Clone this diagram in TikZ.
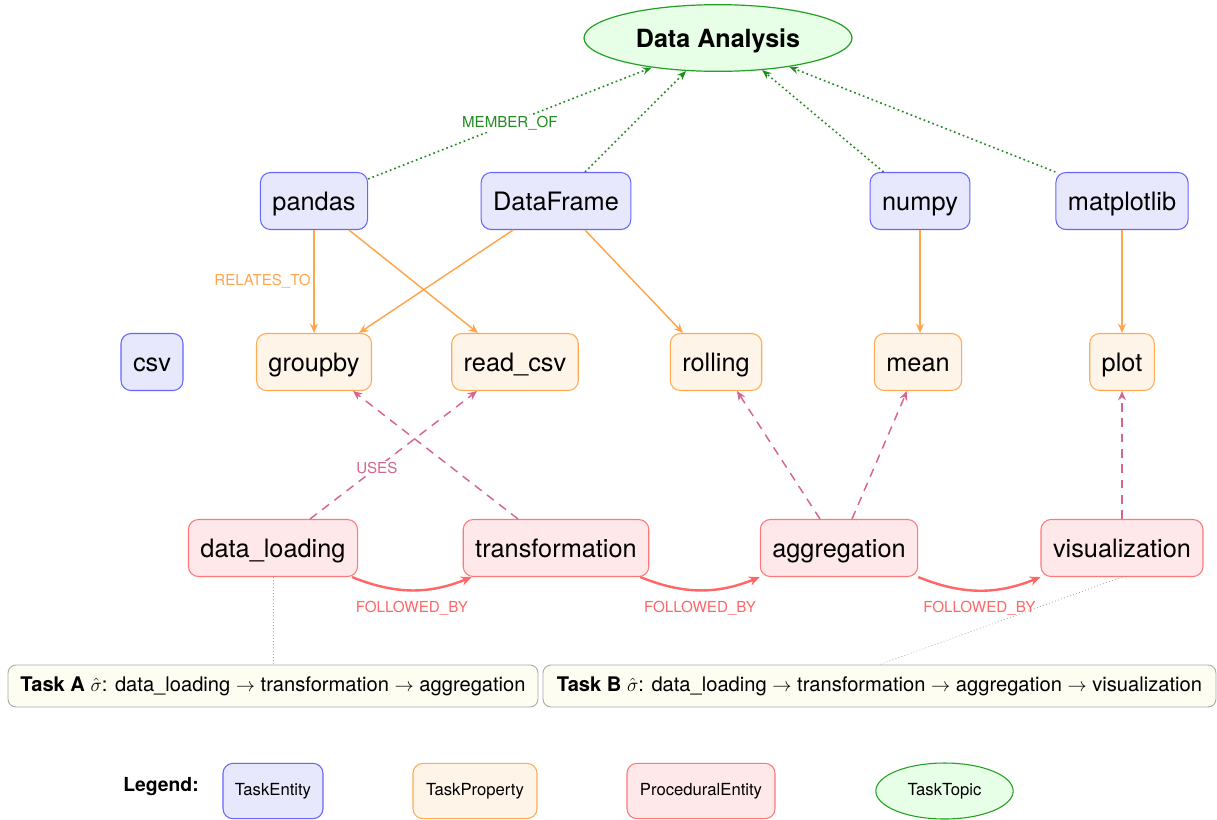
\documentclass[tikz,border=0pt]{standalone}
\usepackage{fontspec}
\setmainfont{TeX Gyre Heros}
\usetikzlibrary{arrows.meta,calc,shapes.geometric}

\definecolor{entfill}{HTML}{E8E8FC}
\definecolor{entdraw}{HTML}{6666FF}
\definecolor{propfill}{HTML}{FFF4E8}
\definecolor{propdraw}{HTML}{FFAA55}
\definecolor{procfill}{HTML}{FFE8EA}
\definecolor{procdraw}{HTML}{FF7777}
\definecolor{topfill}{HTML}{E6FFE6}
\definecolor{topdraw}{HTML}{22A022}
\definecolor{memcol}{HTML}{228B22}
\definecolor{relcol}{HTML}{FFA64D}
\definecolor{usecol}{HTML}{D6668F}
\definecolor{folcol}{HTML}{FF6666}
\definecolor{taskfill}{HTML}{FDFDF2}
\definecolor{taskdraw}{HTML}{AAAAAA}

\begin{document}
\begin{tikzpicture}[x=0.75pt,y=-0.75pt,
  base/.style={rounded corners=7.5pt, line width=0.8pt, minimum height=42.75pt,
    inner xsep=9pt, text height=13.7pt, text depth=0pt,
    font=\fontsize{19}{22}\selectfont},
  ent/.style={base, draw=entdraw, fill=entfill},
  prop/.style={base, draw=propdraw, fill=propfill},
  proc/.style={base, draw=procdraw, fill=procfill},
  topic/.style={ellipse, draw=topdraw, fill=topfill, line width=0.9pt,
    minimum width=201pt, minimum height=50pt, inner sep=0pt,
    text height=13.6pt, text depth=0pt,
    font=\fontsize{18.8}{21}\selectfont\bfseries},
  mem/.style={draw=memcol, line width=1.2pt, dash pattern=on 1.3pt off 2.2pt,
    -{Stealth[length=7pt,width=5.5pt]}},
  memlab/.style={fill=white, inner sep=1pt, text=memcol,
    font=\fontsize{11.3}{12}\selectfont},
  rel/.style={draw=relcol, line width=1.1pt, -{Stealth[length=7pt,width=6pt]}},
  rellab/.style={inner sep=2pt, text=relcol, font=\fontsize{11.3}{12}\selectfont},
  use/.style={draw=usecol, line width=1.1pt, dash pattern=on 6.5pt off 5pt,
    -{Stealth[length=7pt,width=6pt]}},
  uselab/.style={fill=white, inner sep=1pt, text=usecol, font=\fontsize{11.3}{12}\selectfont},
  fol/.style={draw=folcol, line width=1.8pt, -{Stealth[length=8pt,width=7pt]}, bend right=22},
  follab/.style={inner sep=1pt, text=folcol, font=\fontsize{11.4}{12}\selectfont},
  task/.style={rounded corners=6pt, draw=taskdraw, fill=taskfill, line width=0.7pt,
    minimum height=31.5pt, inner sep=0pt, font=\fontsize{15.1}{17}\selectfont},
  link/.style={draw=gray!70, line width=0.6pt, dash pattern=on 0.6pt off 1.8pt},
  legbox/.style={rounded corners=7.5pt, line width=0.8pt, minimum height=41.5pt,
    inner sep=0pt, font=\fontsize{12.5}{14}\selectfont},
]
\useasboundingbox (0,0) rectangle (1217,819);

% topic
\node[topic] (topic) at (718,38) {Data Analysis};

% entities
\node[ent] (pandas) at (314,201) {pandas};
\node[ent] (df) at (556,201) {DataFrame};
\node[ent] (numpy) at (920,201) {numpy};
\node[ent] (mpl) at (1122,201) {matplotlib};
\node[ent] (csv) at (152,362) {csv};

% properties
\node[prop] (groupby) at (314,362) {groupby};
\node[prop] (readcsv) at (515,362) {read\_csv};
\node[prop] (rolling) at (716,362) {rolling};
\node[prop] (mean) at (918,362) {mean};
\node[prop] (plot) at (1122,362) {plot};

% procedural
\node[proc] (load) at (273,548) {data\_loading};
\node[proc] (trans) at (556,548) {transformation};
\node[proc] (agg) at (839,548) {aggregation};
\node[proc] (vis) at (1122,548) {visualization};

% tasks
\node[task, minimum width=397.5pt] (taskA) at (273,686)
  {\textbf{Task A} $\hat{\sigma}$: data\_loading $\rightarrow$ transformation $\rightarrow$ aggregation};
\node[task, minimum width=504.75pt] (taskB) at (879.5,686)
  {\textbf{Task B} $\hat{\sigma}$: data\_loading $\rightarrow$ transformation $\rightarrow$ aggregation $\rightarrow$ visualization};

% MEMBER_OF
\draw[mem] ($(pandas.north east)+(0,7)$) -- node[memlab, pos=0.5]{MEMBER\_OF} (topic.204);
\draw[mem] ($(df.north)+(29,0)$) -- (topic.226);
\draw[mem] ($(numpy.north west)+(14,0)$) -- (topic.324);
\draw[mem] (mpl.north west) -- (topic.338);

% RELATES_TO
\draw[rel] (pandas.south) -- node[rellab, left, pos=0.5]{RELATES\_TO} (groupby.north);
\draw[rel] ($(pandas.south)+(35,0)$) -- ($(readcsv.north)+(-37,0)$);
\draw[rel] ($(df.south)+(-43,0)$) -- ($(groupby.north)+(45,0)$);
\draw[rel] ($(df.south)+(29,0)$) -- ($(rolling.north)+(-33,0)$);
\draw[rel] (numpy.south) -- (numpy.south |- mean.north);
\draw[rel] (mpl.south) -- (plot.north);

% USES
\draw[use] ($(load.north)+(37,0)$) -- node[uselab, pos=0.4]{USES} ($(readcsv.south)+(-38,0)$);
\draw[use] ($(trans.north)+(-38,0)$) -- ($(groupby.south)+(39,0)$);
\draw[use] ($(agg.north)+(-19,0)$) -- ($(rolling.south)+(21,0)$);
\draw[use] ($(agg.north)+(13,0)$) -- ($(mean.south)+(-11,0)$);
\draw[use] (vis.north) -- (plot.south);

% FOLLOWED_BY
\draw[fol] ($(load.south east)+(-6,0)$) to node[follab, below=6pt, pos=0.5]{FOLLOWED\_BY} ($(trans.south west)+(9,0)$);
\draw[fol] ($(trans.south east)+(-9,0)$) to node[follab, below=6pt, pos=0.5]{FOLLOWED\_BY} (agg.south west);
\draw[fol] (agg.south east) to node[follab, below=6pt, pos=0.5]{FOLLOWED\_BY} (vis.south west);

% task links
\draw[link] (load.south) -- (taskA.north);
\draw[link] (vis.south) -- (taskB.north);

% legend
\node[font=\fontsize{14.5}{16}\selectfont\bfseries] (legtitle) at (161,787) {Legend:};
\node[legbox, draw=entdraw, fill=entfill, minimum width=75pt] (legent) at (273,791) {TaskEntity};
\node[legbox, draw=propdraw, fill=propfill, minimum width=93pt] (legprop) at (475,791) {TaskProperty};
\node[legbox, draw=procdraw, fill=procfill, minimum width=111pt] (legproc) at (701,791) {ProceduralEntity};
\node[ellipse, draw=topdraw, fill=topfill, line width=0.8pt, minimum width=103pt,
  minimum height=42pt, inner sep=0pt, font=\fontsize{12.5}{14}\selectfont] (legtopic) at (944.5,791) {TaskTopic};
\end{tikzpicture}
\end{document}
